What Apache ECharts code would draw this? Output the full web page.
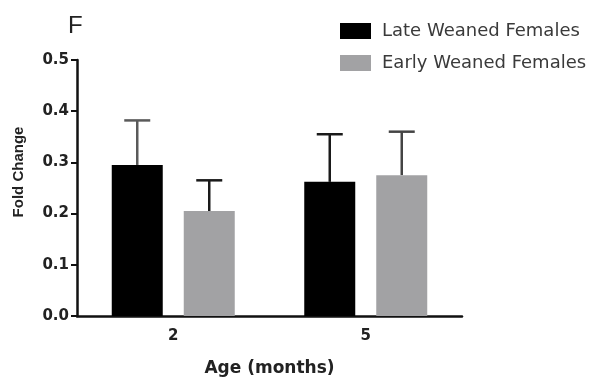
<!DOCTYPE html>
<html>
<head>
<meta charset="utf-8">
<script src="https://cdn.jsdelivr.net/npm/echarts@6/dist/echarts.min.js"></script>
<style>
  html, body { margin: 0; padding: 0; background: #fff; }
  #chart { width: 605px; height: 384px; }
</style>
</head>
<body>
<div id="chart"></div>
<script>
// Age groups (months)
const categories = ['2', '5'];

// Mean fold change and SEM per group
const lateMeans = [0.295, 0.262];
const lateSem = [0.087, 0.093];
const earlyMeans = [0.205, 0.275];
const earlySem = [0.060, 0.085];

const yTicks = [0, 0.1, 0.2, 0.3, 0.4, 0.5];

const BAR_W = 51;
const BAR_GAP_PX = 21;
const SANS = '"Liberation Sans", Arial, sans-serif';
const WIDE = '"DejaVu Sans", Verdana, sans-serif';

const chart = echarts.init(document.getElementById('chart'));

// Upper error whisker for one series, shifted to sit over its bar
function whiskerSeries(means, sems, side, colors) {
  const data = means.map((m, i) => [i, m, m + sems[i]]);
  return {
    type: 'custom',
    z: 1,
    silent: true,
    renderItem: function (params, api) {
      const idx = api.value(0);
      const base = api.coord([idx, api.value(1)]);
      const top = api.coord([idx, api.value(2)]);
      const x = base[0] + side * (BAR_W / 2 + BAR_GAP_PX / 2);
      const capHalf = 13;
      const style = { stroke: colors[params.dataIndex], lineWidth: 2.5, fill: null };
      return {
        type: 'group',
        children: [
          { type: 'line', shape: { x1: x, y1: base[1], x2: x, y2: top[1] }, style: style },
          { type: 'line', shape: { x1: x - capHalf, y1: top[1], x2: x + capHalf, y2: top[1] }, style: style }
        ]
      };
    },
    data: data
  };
}

const option = {
  animation: false,
  backgroundColor: '#fff',
  title: {
    text: 'F',
    left: 63,
    top: 9,
    textStyle: { fontFamily: SANS, fontSize: 24, fontWeight: 'normal', color: '#222' }
  },
  legend: {
    orient: 'vertical',
    left: 335,
    top: 17,
    itemWidth: 31,
    itemHeight: 16,
    itemGap: 14,
    icon: 'rect',
    data: ['Late Weaned Females', 'Early Weaned Females'],
    textStyle: { fontFamily: WIDE, fontSize: 18, color: '#3a3a3a', padding: [0, 0, 0, 6] }
  },
  grid: { left: 77, right: 143, top: 60, bottom: 68 },
  xAxis: {
    type: 'category',
    data: categories,
    name: 'Age (months)',
    nameLocation: 'middle',
    nameGap: 44,
    nameTextStyle: { fontFamily: WIDE, fontSize: 17, fontWeight: 'bold', color: '#222' },
    axisLine: { lineStyle: { color: '#111', width: 2.5 } },
    axisTick: { alignWithLabel: true, length: 6, lineStyle: { color: '#111', width: 2 } },
    axisLabel: { fontFamily: WIDE, fontSize: 15, fontWeight: 'bold', color: '#222', margin: 13 }
  },
  yAxis: {
    type: 'value',
    min: 0,
    max: 0.5,
    interval: 0.1,
    axisLine: { show: true, lineStyle: { color: '#111', width: 2.5 } },
    axisTick: { show: true, length: 6, lineStyle: { color: '#111', width: 2 } },
    splitLine: { show: false },
    axisLabel: {
      fontFamily: WIDE, fontSize: 15, fontWeight: 'bold', color: '#222', margin: 8,
      formatter: function (v) {
        const t = yTicks.find(k => Math.abs(k - v) < 1e-9);
        return (t !== undefined ? t : v).toFixed(1);
      }
    }
  },
  graphic: [{
    type: 'text',
    x: 19,
    y: 172,
    rotation: Math.PI / 2,
    style: {
      text: 'Fold Change',
      fontFamily: SANS,
      fontSize: 15,
      fontWeight: 'bold',
      fill: '#222',
      align: 'center',
      verticalAlign: 'middle'
    }
  }],
  series: [
    {
      name: 'Late Weaned Females',
      type: 'bar',
      data: lateMeans,
      barWidth: BAR_W,
      barGap: (BAR_GAP_PX / BAR_W * 100) + '%',
      itemStyle: { color: '#000' },
      z: 2
    },
    {
      name: 'Early Weaned Females',
      type: 'bar',
      data: earlyMeans,
      barWidth: BAR_W,
      itemStyle: { color: '#a2a2a4' },
      z: 2
    },
    whiskerSeries(lateMeans, lateSem, -1, ['#5a5a5a', '#1a1a1a']),
    whiskerSeries(earlyMeans, earlySem, 1, ['#1a1a1a', '#444'])
  ]
};

chart.setOption(option);
</script>
</body>
</html>
